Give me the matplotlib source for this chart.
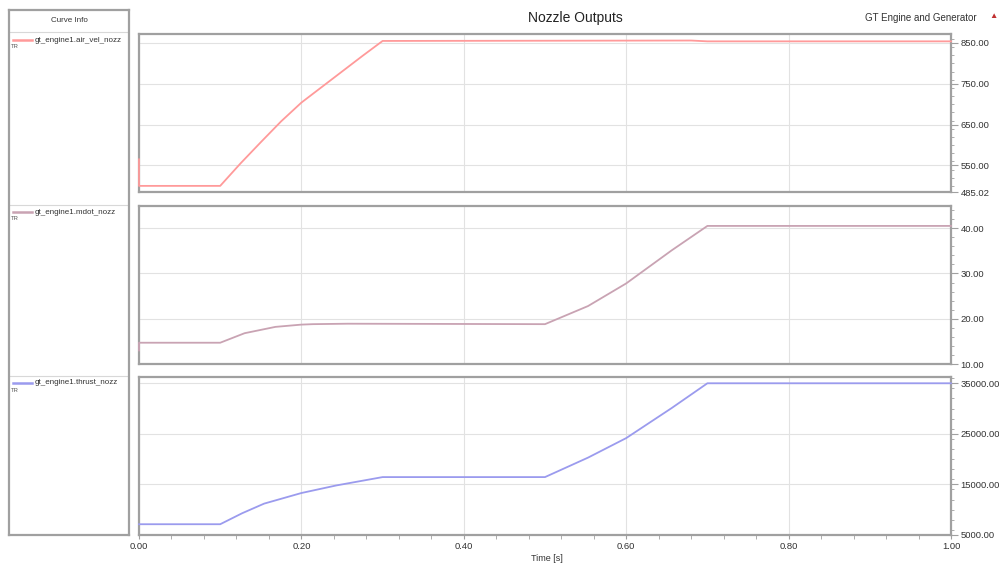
import numpy as np
import matplotlib
matplotlib.use('Agg')
import matplotlib.pyplot as plt
from matplotlib.ticker import MultipleLocator, FixedLocator, FormatStrFormatter

plt.rcParams['font.family'] = ['Liberation Sans', 'DejaVu Sans']

# данные: время и значения для трёх кривых
t_vel = [0.0, 0.0, 0.1, 0.125, 0.15, 0.175, 0.2, 0.225, 0.25, 0.275, 0.3, 0.68, 0.7, 1.0]
air_vel = [565, 500, 500, 555, 607, 658, 704, 742, 780, 818, 855, 856, 854, 854]

t_mdot = [0.0, 0.0, 0.1, 0.13, 0.168, 0.2, 0.214, 0.257, 0.5, 0.553, 0.6, 0.656, 0.7, 1.0]
mdot = [13.0, 14.7, 14.7, 16.8, 18.2, 18.7, 18.8, 18.9, 18.8, 22.8, 27.8, 35.1, 40.5, 40.5]

t_thrust = [0.0, 0.1, 0.127, 0.154, 0.2, 0.243, 0.3, 0.5, 0.553, 0.6, 0.656, 0.7, 1.0]
thrust = [7130, 7130, 9300, 11200, 13300, 14800, 16450, 16450, 20300, 24160, 30100, 35000, 35000]

names = ['gt_engine1.air_vel_nozz', 'gt_engine1.mdot_nozz', 'gt_engine1.thrust_nozz']
colors = ['#ff9a9a', '#c9a3b3', '#9b9bee']
ylims = [(485.02, 872), (10, 44.9), (5000, 36240)]
yticks = [[485.02, 550, 650, 750, 850], [10, 20, 30, 40], [5000, 15000, 25000, 35000]]
yminor = [20, 2, 2000]
series = [(t_vel, air_vel), (t_mdot, mdot), (t_thrust, thrust)]

W, H = 999, 565
fig = plt.figure(figsize=(W / 100, H / 100), dpi=100)
frame_col = '#a0a0a0'
txt_col = '#333333'

# пиксельные границы панелей (верх, низ)
panels = [(34, 192), (206, 364), (377, 535)]
x0, x1 = 139, 951

for i, (top, bot) in enumerate(panels):
    ax = fig.add_axes([x0 / W, 1 - bot / H, (x1 - x0) / W, (bot - top) / H])
    t, v = series[i]
    ax.plot(t, v, color=colors[i], lw=1.3, zorder=3, clip_on=False)
    ax.set_xlim(0, 1)
    ax.set_ylim(*ylims[i])
    ax.yaxis.tick_right()
    ax.yaxis.set_major_locator(FixedLocator(yticks[i]))
    ax.yaxis.set_minor_locator(MultipleLocator(yminor[i]))
    ax.yaxis.set_major_formatter(FormatStrFormatter('%.2f'))
    ax.xaxis.set_major_locator(MultipleLocator(0.2))
    ax.xaxis.set_minor_locator(MultipleLocator(0.04))
    ax.xaxis.set_major_formatter(FormatStrFormatter('%.2f'))
    ax.grid(True, which='major', color='#e2e2e2', lw=0.8)
    ax.tick_params(axis='y', which='both', direction='out', colors=frame_col,
                   labelcolor=txt_col, labelsize=6.8, pad=2)
    ax.tick_params(axis='y', which='major', length=5, width=0.8)
    ax.tick_params(axis='y', which='minor', length=2.5, width=0.6)
    ax.tick_params(axis='x', which='both', direction='out', colors=frame_col,
                   labelcolor=txt_col, labelsize=6.8, pad=2)
    ax.tick_params(axis='x', which='major', length=3, width=0.8)
    ax.tick_params(axis='x', which='minor', length=3, width=0.6)
    if i < 2:
        ax.tick_params(axis='x', which='both', bottom=False, labelbottom=False)
    else:
        ax.set_xlabel('Time [s]', fontsize=6.5, color=txt_col, labelpad=0)
        ax.xaxis.set_label_coords(0.503, -0.12)
    for s in ax.spines.values():
        s.set_color(frame_col)
        s.set_linewidth(1.6)

fig.text(575 / W, 1 - 18 / H, 'Nozzle Outputs', ha='center', va='center', fontsize=10, color='#222222')
fig.text(977 / W, 1 - 18 / H, 'GT Engine and Generator', ha='right', va='center', fontsize=7, color=txt_col)
fig.text(993 / W, 1 - 17 / H, '\u25b2', ha='center', va='center', fontsize=6, color='#c03030')

# панель "Curve Info"
lx0, lx1, ltop, lbot = 9, 129, 10, 535
lax = fig.add_axes([lx0 / W, 1 - lbot / H, (lx1 - lx0) / W, (lbot - ltop) / H])
lax.set_xlim(lx0, lx1)
lax.set_ylim(lbot, ltop)
lax.set_xticks([])
lax.set_yticks([])
for s in lax.spines.values():
    s.set_color(frame_col)
    s.set_linewidth(1.6)
lax.text((lx0 + lx1) / 2, 21, 'Curve Info', ha='center', va='center', fontsize=5.8, color=txt_col)
for y in [32, 205, 376]:
    lax.axhline(y, color='#d8d8d8', lw=0.8)
for i, y in enumerate([40, 212, 383]):
    lax.plot([13, 32], [y, y], color=colors[i], lw=1.8)
    lax.text(35, y, names[i], ha='left', va='center', fontsize=5.8, color=txt_col, clip_on=True)
    lax.text(11, y + 7, 'TR', ha='left', va='center', fontsize=4.2, color='#555555')

fig.savefig('out.png', dpi=100)
